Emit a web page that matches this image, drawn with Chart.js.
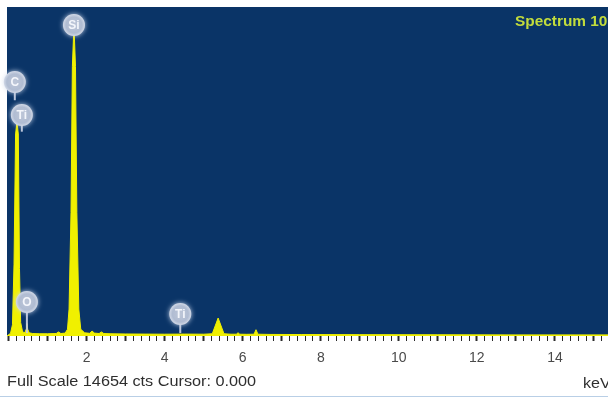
<!DOCTYPE html>
<html>
<head>
<meta charset="utf-8">
<script src="https://cdn.jsdelivr.net/npm/chart.js@4.4.1/dist/chart.umd.min.js"></script>
<style>
  html, body { margin: 0; padding: 0; background: #ffffff; overflow: hidden; }
  #wrap { width: 608px; height: 397px; position: relative; }
</style>
</head>
<body>
<div id="wrap"><canvas id="spectrum" width="608" height="397"></canvas></div>
<script>
// EDS spectrum: energy (keV) against counts
const energyKeV = [-0.04, 0.05, 0.10, 0.14, 0.18, 0.215, 0.25, 0.28, 0.31, 0.36,
  0.42, 0.45, 0.47, 0.49, 0.53, 0.62, 0.80, 1.00, 1.22, 1.28,
  1.34, 1.45, 1.51, 1.55, 1.60, 1.635, 1.676, 1.715, 1.75, 1.80,
  1.85, 1.95, 2.08, 2.14, 2.20, 2.32, 2.38, 2.44, 2.60, 3.00,
  3.50, 4.00, 4.50, 5.00, 5.22, 5.37, 5.52, 5.70, 5.84, 5.88,
  5.92, 6.10, 6.29, 6.34, 6.39, 6.70, 7.50, 9.00, 11.00, 13.00,
  15.36];
const counts = [0, 120, 500, 3200, 9000, 9530, 9000, 3000, 600, 180,
  150, 300, 560, 300, 140, 110, 100, 100, 110, 180,
  110, 130, 300, 1200, 5500, 12000, 13850, 12000, 5500, 1200,
  300, 140, 120, 220, 130, 110, 180, 110, 100, 90,
  85, 80, 85, 80, 100, 800, 100, 80, 80, 150,
  80, 75, 80, 280, 80, 70, 65, 60, 55, 50,
  50];

// Element line markers: label, energy, bubble height, stem end
const markerLabels  = ['C', 'Ti', 'Si', 'O', 'Ti'];
const markerEnergy  = [0.16, 0.34, 1.676, 0.47, 4.40];
const markerCounts  = [11310, 9840, 13850, 1515, 980];
const markerStemEnd = [10500, 9100, 13850, 130, 130];

const labeledTicks = [2, 4, 6, 8, 10, 12, 14];
const minorStep = 0.2;
const energyMin = -0.04, energyMax = 15.36;
const fullScale = 14654;
const spectrumName = 'Spectrum 10';
const cursorValue = '0.000';
const unitLabel = 'keV';

const PLOT_BG = '#0a3467';
const TRACE = '#f0f000';

const isLabeled = v => labeledTicks.some(t => Math.abs(t - v) < 1e-6);
const isWhole = v => Math.abs(v - Math.round(v)) < 1e-6;

const spectrumDecor = {
  id: 'spectrumDecor',
  beforeDraw(chart) {
    const { ctx, chartArea: a } = chart;
    ctx.save();
    ctx.fillStyle = PLOT_BG;
    ctx.fillRect(a.left, a.top, a.right - a.left, a.bottom - a.top);
    ctx.restore();
  },
  afterDraw(chart) {
    const { ctx } = chart;
    const xs = chart.scales.x, ys = chart.scales.y;
    ctx.save();
    // element markers
    markerLabels.forEach((lab, i) => {
      const px = xs.getPixelForValue(markerEnergy[i]);
      const py = ys.getPixelForValue(markerCounts[i]);
      const pe = ys.getPixelForValue(markerStemEnd[i]);
      if (pe - py > 1) {
        ctx.strokeStyle = 'rgba(196,206,224,0.95)';
        ctx.lineWidth = 2;
        ctx.beginPath();
        ctx.moveTo(px, py);
        ctx.lineTo(px, pe);
        ctx.stroke();
      }
      const r = 11;
      ctx.save();
      ctx.shadowColor = 'rgba(210,220,238,0.9)';
      ctx.shadowBlur = 5;
      const g = ctx.createRadialGradient(px, py, 1, px, py, r);
      g.addColorStop(0, '#bcc5d7');
      g.addColorStop(0.7, '#b0bcd2');
      g.addColorStop(1, '#d2d9e7');
      ctx.fillStyle = g;
      ctx.beginPath();
      ctx.arc(px, py, r, 0, Math.PI * 2);
      ctx.fill();
      ctx.restore();
      ctx.fillStyle = '#f4f6fb';
      ctx.font = 'bold 12px "Liberation Sans", Arial, sans-serif';
      ctx.textAlign = 'center';
      ctx.textBaseline = 'middle';
      ctx.fillText(lab, px, py + 1);
    });

    // spectrum name
    ctx.save();
    ctx.translate(515, 22);
    ctx.scale(1.1, 1);
    ctx.fillStyle = '#c2dc3c';
    ctx.font = 'bold 14px "Liberation Sans", Arial, sans-serif';
    ctx.textAlign = 'left';
    ctx.textBaseline = 'middle';
    ctx.fillText(spectrumName, 0, 0);
    ctx.restore();

    // footer line
    ctx.save();
    ctx.translate(7, 382);
    ctx.scale(1.16, 1);
    ctx.fillStyle = '#2e2e2e';
    ctx.font = '14px "Liberation Sans", Arial, sans-serif';
    ctx.textAlign = 'left';
    ctx.textBaseline = 'middle';
    ctx.fillText('Full Scale ' + fullScale + ' cts Cursor: ' + cursorValue, 0, 0);
    ctx.restore();

    ctx.save();
    ctx.translate(583, 384);
    ctx.scale(1.15, 1);
    ctx.fillStyle = '#2e2e2e';
    ctx.font = '14px "Liberation Sans", Arial, sans-serif';
    ctx.textAlign = 'left';
    ctx.textBaseline = 'middle';
    ctx.fillText(unitLabel, 0, 0);
    ctx.restore();

    // thin frame line along the bottom edge
    ctx.strokeStyle = '#b9cfe6';
    ctx.lineWidth = 1;
    ctx.beginPath();
    ctx.moveTo(0, 396.5);
    ctx.lineTo(608, 396.5);
    ctx.stroke();
    ctx.restore();
  }
};

new Chart(document.getElementById('spectrum'), {
  type: 'line',
  data: {
    datasets: [{
      data: energyKeV.map((e, i) => ({ x: e, y: counts[i] })),
      borderColor: TRACE,
      backgroundColor: TRACE,
      borderWidth: 1,
      fill: 'origin',
      pointRadius: 0,
      tension: 0
    }]
  },
  options: {
    responsive: false,
    animation: false,
    layout: { padding: { left: 7, top: 7, right: 0, bottom: 0 } },
    plugins: { legend: { display: false }, tooltip: { enabled: false } },
    scales: {
      x: {
        type: 'linear',
        min: energyMin,
        max: energyMax,
        afterBuildTicks(scale) {
          const t = [];
          for (let k = 0; k * minorStep <= energyMax; k++) {
            t.push({ value: Math.round(k * minorStep * 10) / 10 });
          }
          scale.ticks = t;
        },
        afterFit(scale) {
          scale.height = 61;
          scale.paddingLeft = 0;
          scale.paddingRight = 0;
        },
        border: { display: false },
        grid: {
          drawOnChartArea: false,
          tickLength: 5,
          tickColor: '#2a2a2a',
          tickWidth: ctx => (ctx.tick && isWhole(ctx.tick.value)) ? 2 : 1
        },
        ticks: {
          autoSkip: false,
          maxRotation: 0,
          padding: 9,
          color: '#4a4a4a',
          font: { family: '"Liberation Sans", Arial, sans-serif', size: 14 },
          callback: v => isLabeled(v) ? String(Math.round(v)) : ''
        }
      },
      y: {
        display: false,
        min: 0,
        max: fullScale
      }
    }
  },
  plugins: [spectrumDecor]
});
</script>
</body>
</html>
